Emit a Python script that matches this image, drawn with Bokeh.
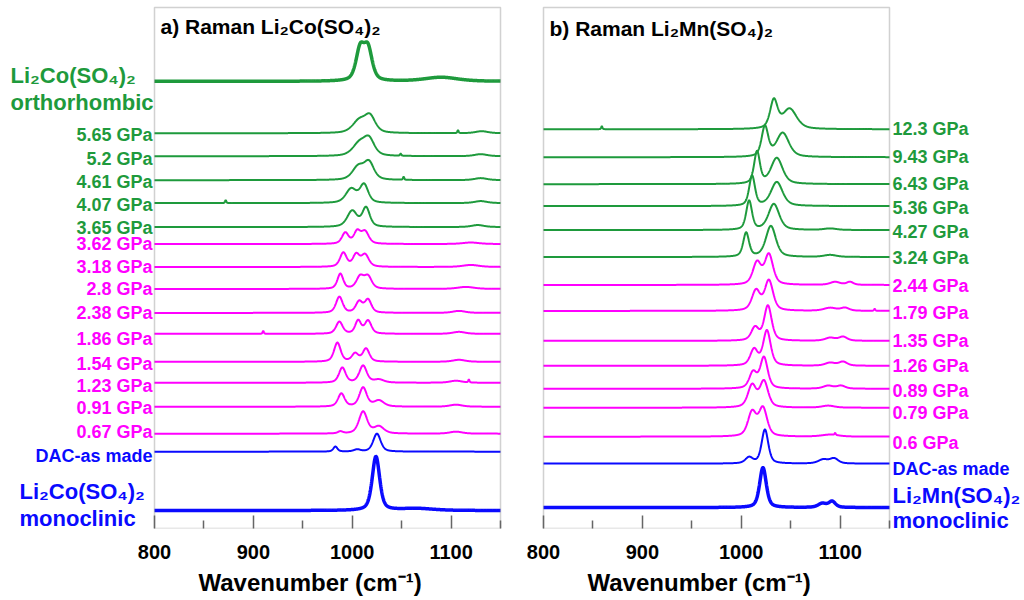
import numpy as np
from bokeh.plotting import figure
from bokeh.models import Range1d, FixedTicker, BoxAnnotation, Title
from bokeh.core.properties import value
from bokeh.layouts import row
from bokeh.embed import file_html
from bokeh.resources import INLINE

GREEN = "#1e9a3c"
MAGENTA = "#ff00ff"
BLUE = "#0a0aff"
GREY = "#666666"
FONT = "Liberation Sans"

# ---- panel a: Li2Co(SO4)2, top to bottom ----
co_names = ["ortho", "5.65 GPa", "5.2 GPa", "4.61 GPa", "4.07 GPa", "3.65 GPa",
            "3.62 GPa", "3.18 GPa", "2.8 GPa", "2.38 GPa", "1.86 GPa", "1.54 GPa",
            "1.23 GPa", "0.91 GPa", "0.67 GPa", "DAC-as made", "mono"]
co_colors = [GREEN] * 6 + [MAGENTA] * 9 + [BLUE] * 2
# peaks: (centre cm-1, height, fwhm)
co_peaks = [
    [(1008, 31, 10), (1016, 31, 10), (1090, 4, 40)],
    [(1007, 12, 16), (1018, 16, 13), (1107, 3, 1.5), (1131, 2, 15)],
    [(1007, 12, 16), (1017, 16, 13), (1049, 2, 1.5), (1130, 2, 15)],
    [(1006, 13, 14), (1017, 17, 12), (1052, 3, 1.5), (1130, 2, 15)],
    [(999, 14, 13), (1012, 18, 10), (872, 3, 1.5), (1130, 2, 15)],
    [(1000, 16, 12), (1014, 19, 9), (1127, 2, 15)],
    [(993, 11, 8), (1005, 12, 8), (1013, 12, 9), (1120, 1.5, 20)],
    [(991, 14, 8), (1004, 12, 8), (1013, 12, 9), (1120, 2, 20)],
    [(988, 15, 7), (1008, 12, 9), (1016, 12, 9), (1115, 2, 20)],
    [(987, 16, 8), (1007, 11, 8), (1016, 13, 8), (1108, 2, 15)],
    [(987, 12, 8), (1006, 13, 7), (1016, 13, 8), (910, 3, 1.5), (1108, 2, 15)],
    [(985, 19, 8), (1003, 8, 8), (1014, 13, 8), (1108, 2, 15)],
    [(990, 15, 8), (1011, 17, 9), (1027, 3, 12), (1105, 2, 15), (1118, 3, 1.5)],
    [(989, 13, 8), (1011, 19, 9), (1027, 6, 12), (1105, 2, 15)],
    [(988, 2, 6), (1011, 22, 10), (1027, 7, 12), (1105, 2, 15)],
    [(983, 5, 5), (1005, 2, 8), (1025, 18, 9)],
    [(1024, 54, 9), (1065, 2, 40)],
]

# ---- panel b: Li2Mn(SO4)2, top to bottom ----
mn_names = ["12.3 GPa", "9.43 GPa", "6.43 GPa", "5.36 GPa", "4.27 GPa", "3.24 GPa",
            "2.44 GPa", "1.79 GPa", "1.35 GPa", "1.26 GPa", "0.89 GPa", "0.79 GPa",
            "0.6 GPa", "DAC-as made", "mono"]
mn_colors = [GREEN] * 6 + [MAGENTA] * 7 + [BLUE] * 2
mn_peaks = [
    [(1033, 28, 9), (1049, 20, 17), (859, 3, 1.5)],
    [(1024, 30, 8), (1042, 24, 15)],
    [(1016, 32, 7), (1036, 26, 14)],
    [(1011, 30, 7), (1036, 24, 14)],
    [(1008, 29, 7), (1033, 26, 13), (1090, 1.5, 15)],
    [(1005, 24, 7), (1030, 31, 12), (1090, 2, 15)],
    [(1016, 22, 10), (1028, 30, 10), (1095, 3, 12), (1110, 3, 8)],
    [(1015, 20, 10), (1028, 30, 10), (1090, 3, 15), (1105, 3, 10), (1135, 2, 1.5)],
    [(1014, 13, 9), (1027, 35, 9), (1090, 3, 12), (1103, 4, 10)],
    [(1013, 16, 9), (1026, 35, 9), (1090, 3, 12), (1103, 4, 10)],
    [(1012, 16, 9), (1023, 31, 9), (1088, 3, 12), (1101, 3, 10)],
    [(1011, 22, 10), (1023, 26, 10), (1088, 2, 15)],
    [(1011, 24, 10), (1022, 28, 10), (1090, 2, 20), (1095, 2, 1.5)],
    [(1008, 6, 9), (1024, 34, 8), (1083, 4, 12), (1094, 5, 10)],
    [(1022, 40, 8), (1082, 4, 10), (1092, 6, 8)],
]

# stacking offsets of the waterfall and label heights (same vertical units)
co_offsets = [448, 396, 373, 349, 326, 302, 285, 262, 240, 216, 195, 167, 146, 122, 95, 77, 18]
mn_offsets = [400, 372, 345, 323, 299, 272, 244, 218, 188, 163, 140, 121, 92, 65, 21]
co_label_y = [394, 370, 347, 324, 301, 285, 262, 240, 216, 190, 165, 143, 121, 97, 73]
mn_label_y = [400, 372, 345, 321, 297, 271, 243, 216, 188, 163, 138, 116, 86, 60]

xs = np.linspace(800, 1150, 1401)
K = 350 / 346  # cm-1 per screen pixel


def spectrum(peaks, base):
    y = np.full_like(xs, base, dtype=float)
    for c, h, w in peaks:
        d = (xs - c) / w
        y += h * (0.5 * np.exp(-4 * np.log(2) * d * d) + 0.5 / (1 + 4 * d * d))
    return y


def make_panel(width, box_left, xlabel_left):
    # frame spans the whole canvas width so the side labels are not clipped;
    # the visible plot box is drawn as an annotation from 800 to 1150 cm-1
    x_range = Range1d(800 - box_left * K, 800 + (width - box_left) * K)
    p = figure(width=width, height=600, x_range=x_range, y_range=Range1d(0, 529),
               output_backend="svg", toolbar_location=None,
               min_border_left=0, min_border_right=0, min_border_top=0, min_border_bottom=71)
    p.yaxis.visible = False
    p.grid.visible = False
    p.outline_line_color = None
    p.add_layout(BoxAnnotation(left=800, right=1150, bottom=0, top=522, fill_alpha=0,
                               line_color=GREY, line_width=1.5))
    ax = p.xaxis[0]
    ax.ticker = FixedTicker(ticks=[800, 900, 1000, 1100], minor_ticks=[850, 950, 1050, 1150])
    ax.axis_line_color = None
    ax.major_tick_in = 13
    ax.major_tick_out = 0
    ax.minor_tick_in = 8
    ax.minor_tick_out = 0
    ax.major_tick_line_color = GREY
    ax.minor_tick_line_color = GREY
    ax.major_tick_line_width = 1.5
    ax.minor_tick_line_width = 1.5
    ax.major_label_text_font = FONT
    ax.major_label_text_font_style = "bold"
    ax.major_label_text_font_size = "20px"
    ax.major_label_text_color = "black"
    ax.major_label_standoff = 16
    p.add_layout(Title(text="Wavenumber (cm⁻¹)", align="left", offset=xlabel_left,
                       standoff=10, text_font=FONT, text_font_style="bold",
                       text_font_size="24px", text_color="black"), "below")
    return p


def add_text(p, x, y, text, color, size, align):
    p.text(x=[x], y=[y], text=[text], text_color=color, text_font=value(FONT),
           text_font_style="bold", text_font_size=size,
           text_align=align, text_baseline="middle")


# panel a: canvas 0..520 px, box starts at 154 px
pa = make_panel(520, 154, 198)
for i, peaks in enumerate(co_peaks):
    lw = 3.5 if co_names[i] in ("ortho", "mono") else 2
    pa.line(xs, spectrum(peaks, co_offsets[i]), line_color=co_colors[i], line_width=lw)
for i, name in enumerate(co_names[1:16]):
    add_text(pa, 800 - 2 * K, co_label_y[i], name, co_colors[i + 1], "18px", "right")
add_text(pa, 800 - 144 * K, 454, "Li₂Co(SO₄)₂", GREEN, "22px", "left")
add_text(pa, 800 - 144 * K, 427, "orthorhombic", GREEN, "22px", "left")
add_text(pa, 800 - 135 * K, 37, "Li₂Co(SO₄)₂", BLUE, "22px", "left")
add_text(pa, 800 - 135 * K, 10, "monoclinic", BLUE, "22px", "left")
add_text(pa, 800 + 6 * K, 503, "a) Raman Li₂Co(SO₄)₂", "black", "21px", "left")

# panel b: canvas 520..1024 px, box starts at 543 px
pb = make_panel(504, 23, 67)
for i, peaks in enumerate(mn_peaks):
    lw = 3.5 if mn_names[i] == "mono" else 2
    pb.line(xs, spectrum(peaks, mn_offsets[i]), line_color=mn_colors[i], line_width=lw)
for i, name in enumerate(mn_names[:14]):
    add_text(pb, 1150 + 3 * K, mn_label_y[i], name, mn_colors[i], "18px", "left")
add_text(pb, 1150 + 3 * K, 33, "Li₂Mn(SO₄)₂", BLUE, "22px", "left")
add_text(pb, 1150 + 3 * K, 8, "monoclinic", BLUE, "22px", "left")
add_text(pb, 800 + 6 * K, 501, "b) Raman Li₂Mn(SO₄)₂", "black", "21px", "left")

layout = row(pa, pb)
open("out.html", "w").write(file_html(layout, INLINE))
